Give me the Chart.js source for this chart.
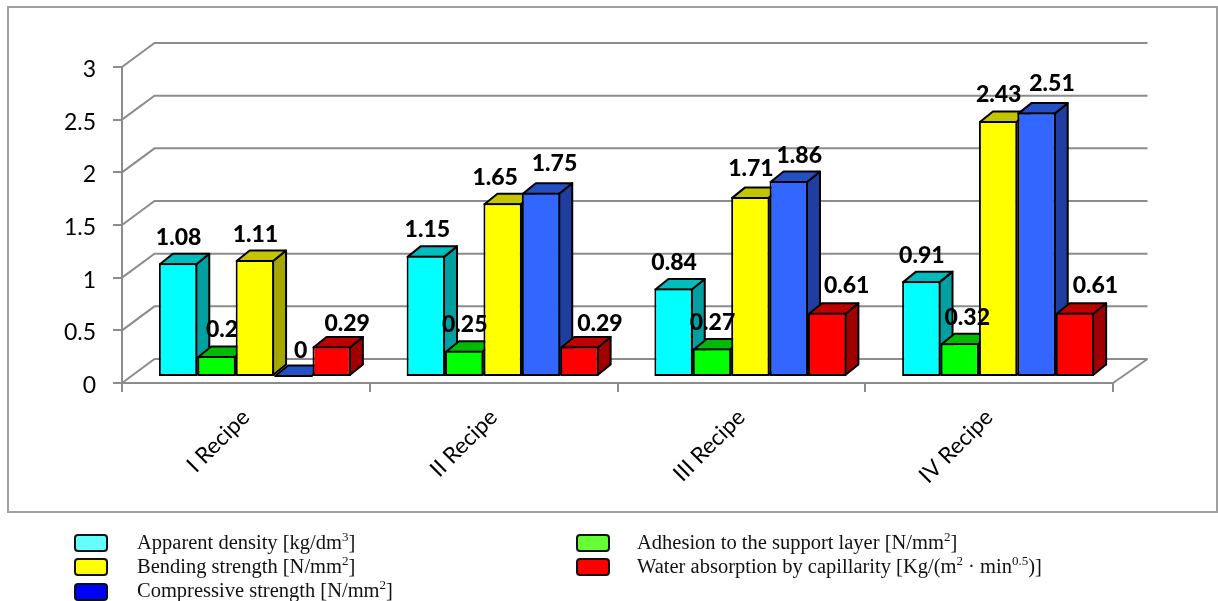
<!DOCTYPE html>
<html>
<head>
<meta charset="utf-8">
<script src="https://cdn.jsdelivr.net/npm/chart.js@4"></script>
<style>
html,body{margin:0;padding:0;background:#fff;overflow:hidden}
#wrap{position:relative;width:1218px;height:601px}
canvas{position:absolute;left:0;top:0}
.lg{position:absolute;font:20.5px/24px "Liberation Serif",serif;color:#111;white-space:nowrap}
.lg sup{font-size:13px;line-height:0;vertical-align:baseline;position:relative;top:-8px}
.sw{position:absolute;width:30px;height:14px;border:2px solid #111;border-radius:4px}
</style>
</head>
<body>
<div id="wrap"><canvas id="c" width="1218" height="601"></canvas></div>
<script>
const categories = ['I Recipe','II Recipe','III Recipe','IV Recipe'];
const apparentDensity = [1.08,1.15,0.84,0.91];
const adhesion = [0.2,0.25,0.27,0.32];
const bendingStrength = [1.11,1.65,1.71,2.43];
const compressiveStrength = [0,1.75,1.86,2.51];
const waterAbsorption = [0.29,0.29,0.61,0.61];
const seriesLabels = [
  'Apparent density [kg/dm<sup>3</sup>]',
  'Adhesion to the support layer [N/mm<sup>2</sup>]',
  'Bending strength [N/mm<sup>2</sup>]',
  'Compressive strength [N/mm<sup>2</sup>]',
  'Water absorption by capillarity [Kg/(m<sup>2</sup> · min<sup>0.5</sup>)]'
];
const seriesValues = [apparentDensity,adhesion,bendingStrength,compressiveStrength,waterAbsorption];
const frontColors = ['#00ffff','#00ff00','#ffff00','#3366ff','#ff0000'];
const topColors = ['#00bcbc','#00bb00','#c4c400','#2450c4','#bf0000'];
const sideColors = ['#00a0a0','#009a00','#a6a600','#1f3ea0','#a00000'];
const legendColors = ['#66ffff','#66ff33','#ffff00','#0000ff','#ff0000'];
const legendSlots = [[74,533.5,137,530],[576,533.5,637,530],[74,558,137,554],[74,583,137,578],[576,558,637,554]];
// per-bar label nudges [series][category]
const labelDx = [[0,1,0,0],[5,0,0,7],[0,-8,0,0],[7,13,10,15],[15,20,19,20]];
const labelDy = [[0,0,0,0],[0,0,0,0],[0,0,-2,0],[0,-3,0,-3],[3,3,-1,-1]];

const GRID = '#8c8c8c';
const FLOOR = {dx:9, dy:-6};   // bars stand inside the floor
const BACK = {dx:32.5, dy:-24, extra:2};  // back wall
const DEPTH = {dx:13, dy:-10.5};   // bar depth
const Y_LABEL_SHIFT = 2.5;

function face(ctx, pts, fill){
  ctx.beginPath();
  pts.forEach((p,i)=> i?ctx.lineTo(p[0],p[1]):ctx.moveTo(p[0],p[1]));
  ctx.closePath();
  ctx.fillStyle = fill; ctx.fill();
  ctx.lineWidth = 2; ctx.strokeStyle = '#000'; ctx.lineJoin='round'; ctx.stroke();
}

const scene3d = {
  id:'scene3d',
  afterLayout(chart){
    const s = chart.scales.y, orig = s.getLabelItems;
    s.getLabelItems = function(ca){
      return orig.call(s,ca).map(it=>({...it,options:{...it.options,
        translation:[it.options.translation[0],it.options.translation[1]+Y_LABEL_SHIFT]}}));
    };
  },
  beforeDatasetsDraw(chart){
    const ctx = chart.ctx, {y:ys} = chart.scales, a = chart.chartArea;
    ctx.save();
    ctx.strokeStyle='#a0a0a0'; ctx.lineWidth=2;
    ctx.strokeRect(8,7,1209,505);
    ctx.strokeStyle=GRID; ctx.lineWidth=2;
    ys.ticks.forEach(t=>{
      const y = ys.getPixelForValue(t.value);
      ctx.beginPath();
      ctx.moveTo(a.left,y);
      ctx.lineTo(a.left+BACK.dx,y+BACK.dy);
      ctx.lineTo(a.right+BACK.dx+BACK.extra,y+BACK.dy);
      ctx.stroke();
    });
    const y0 = ys.getPixelForValue(0);
    ctx.beginPath(); ctx.moveTo(a.right,y0); ctx.lineTo(a.right+BACK.dx+BACK.extra,y0+BACK.dy); ctx.stroke();
    ctx.translate(FLOOR.dx,FLOOR.dy);
    chart.data.datasets.forEach((ds,i)=>{
      chart.getDatasetMeta(i).data.forEach(el=>{
        const p = el.getProps(['x','y','base','width'],true);
        const l=p.x-p.width/2+1, r=p.x+p.width/2-1, b=p.base-1, y=Math.min(p.y+1,b);
        face(ctx,[[r,y],[r+DEPTH.dx,y+DEPTH.dy],[r+DEPTH.dx,b+DEPTH.dy],[r,b]],sideColors[i]);
        face(ctx,[[l,y],[l+DEPTH.dx,y+DEPTH.dy],[r+DEPTH.dx,y+DEPTH.dy],[r,y]],topColors[i]);
        if (p.base-p.y>0.5) el.draw(ctx);
      });
    });
    ctx.restore();
  },
  beforeDatasetDraw(){ return false; },
  afterDatasetsDraw(chart){
    const ctx = chart.ctx;
    ctx.save();
    ctx.translate(FLOOR.dx,FLOOR.dy);
    ctx.font='900 23px Lato'; ctx.fillStyle='#000';
    ctx.textAlign='center'; ctx.textBaseline='middle';
    chart.data.datasets.forEach((ds,i)=>{
      chart.getDatasetMeta(i).data.forEach((el,j)=>{
        const {x,y} = el.getProps(['x','y'],true);
        ctx.fillText(String(ds.data[j]), x+labelDx[i][j]+0.5, y-26+labelDy[i][j]);
      });
    });
    ctx.restore();
  }
};

new Chart(document.getElementById('c'),{
  type:'bar',
  data:{
    labels:categories,
    datasets:seriesValues.map((v,i)=>({
      label:seriesLabels[i].replace(/<[^>]+>/g,''),
      data:v,
      backgroundColor:frontColors[i],
      borderColor:'#000',
      borderWidth:2,
      borderSkipped:false,
      categoryPercentage:0.775,
      barPercentage:1
    }))
  },
  options:{
    responsive:false,
    animation:false,
    layout:{padding:{left:0,right:105,top:67,bottom:0}},
    plugins:{legend:{display:false},title:{display:false},tooltip:{enabled:false}},
    scales:{
      x:{
        type:'category',
        grid:{drawOnChartArea:false,color:GRID,lineWidth:2,tickLength:9,offset:true},
        border:{color:GRID,width:2},
        ticks:{color:'#000',font:{family:'Lato',size:22.5},minRotation:45,maxRotation:45,padding:12},
        afterFit(s){s.height=218;}
      },
      y:{
        min:0,max:3,
        grid:{drawOnChartArea:false,color:GRID,lineWidth:2,tickLength:9},
        border:{color:GRID,width:2},
        ticks:{stepSize:0.5,color:'#000',font:{family:'Lato',size:23},padding:17,callback:v=>String(v)},
        afterFit(s){s.width=122;}
      }
    }
  },
  plugins:[scene3d]
});

const wrap=document.getElementById('wrap');
seriesLabels.forEach((t,i)=>{
  const [sx,sy,tx,ty]=legendSlots[i];
  const s=document.createElement('div'); s.className='sw';
  s.style.left=sx+'px'; s.style.top=sy+'px'; s.style.background=legendColors[i];
  wrap.appendChild(s);
  const d=document.createElement('div'); d.className='lg';
  d.style.left=tx+'px'; d.style.top=ty+'px'; d.innerHTML=t;
  wrap.appendChild(d);
});
</script>
</body>
</html>
